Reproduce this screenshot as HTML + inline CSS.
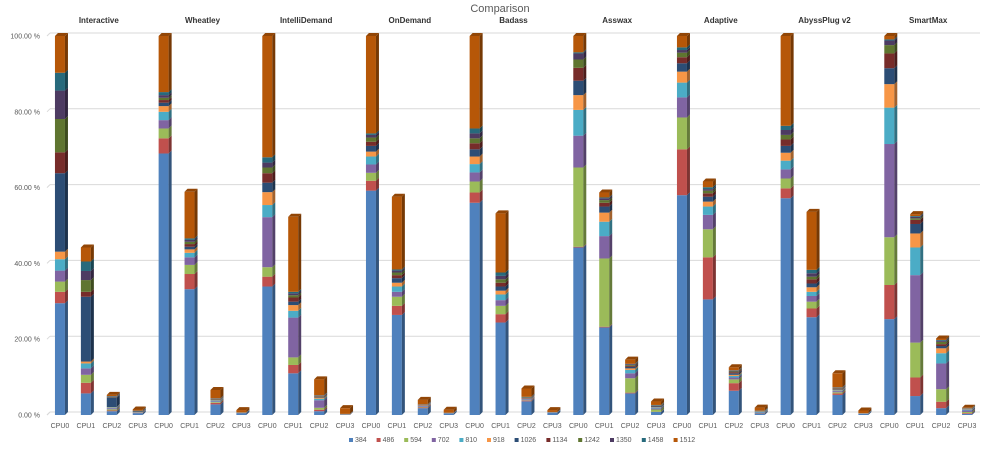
<!DOCTYPE html>
<html><head><meta charset="utf-8"><style>
body{margin:0;background:#fff;font-family:"Liberation Sans",sans-serif;}
svg{display:block}
</style></head><body>
<svg id="chart" width="1000" height="454"></svg>
<script>
const governors=["Interactive","Wheatley","IntelliDemand","OnDemand","Badass","Asswax","Adaptive","AbyssPlug v2","SmartMax"];
const cpus=["CPU0","CPU1","CPU2","CPU3"];
const freqs=["384","486","594","702","810","918","1026","1134","1242","1350","1458","1512"];
const colors=["#4F81BD","#C0504D","#9BBB59","#8064A2","#4BACC6","#F79646","#2C4D75","#772C2A","#5F7530","#4D3B62","#276A7C","#B65708"];
const yTicks=[0,20,40,60,80,100];
// per governor, per cpu: 12 frequency shares (%)
const interactive=[[29.5,3,2.7,2.9,3,2,20.7,5.5,8.8,7.5,4.7,9.7],[5.7,2.8,2.1,1.7,1.3,0.5,17.1,1.3,3.1,2.4,2.5,3.7],[1.0,0.2,0.3,0.3,0.2,0.1,2.5,0.1,0.1,0.1,0.1,0.3],[0.5,0.05,0.05,0.05,0.05,0.05,0.2,0.05,0.05,0.05,0.05,0.3]];
const wheatley=[[69,4,2.6,2.2,2.2,1.5,0.9,0.7,0.6,0.7,0.8,14.8],[33.2,4,2.4,2,1.2,0.9,0.7,0.7,0.6,0.5,0.4,12.3],[2.8,0.4,0.2,0.2,0.2,0.1,0.1,0.1,0.1,0.1,0.1,2.2],[0.5,0.02,0.02,0.02,0.02,0.02,0.02,0.02,0.02,0.02,0.02,0.6]];
const intellidemand=[[33.9,2.6,2.5,13.2,3.2,3.4,2.5,2.5,1.5,1.3,1.4,32],[11,2.2,2,10.5,1.8,1.5,0.9,1.1,0.6,0.5,0.4,19.8],[1.0,0.4,0.5,2,0.4,0.3,0.2,0.1,0.1,0.1,0.1,4.2],[0.1,0.02,0.02,0.02,0.02,0.02,0.02,0.02,0.02,0.02,0.02,1.5]];
const ondemand=[[59.2,2.6,2.1,2.2,2.1,1.3,1.5,1.1,1.1,0.7,0.4,25.7],[26.4,2.4,2.4,1.3,1.4,1,1.2,0.8,0.7,0.5,0.3,19.2],[1.8,0.2,0.1,0.2,0.1,0.1,0.1,0.05,0.05,0.05,0.05,1.2],[0.4,0.02,0.02,0.02,0.02,0.02,0.02,0.02,0.02,0.02,0.02,0.8]];
const badass=[[56,2.7,2.9,2.4,2.2,2,1.9,1.6,1.3,1.3,1.3,24.4],[24.4,2.2,2.2,1.5,1.5,1,1.1,1,0.9,0.9,0.9,15.6],[3.6,0.2,0.1,0.2,0.1,0.1,0.1,0.1,0.1,0.1,0.1,2.2],[0.6,0.02,0.02,0.02,0.02,0.02,0.02,0.02,0.02,0.02,0.02,0.5]];
const asswax=[[44.2,0.2,20.9,8.4,6.8,3.9,3.8,3.4,2.2,1.6,0.3,4.3],[23.1,0.2,18,5.9,3.8,2.4,1.6,1,0.7,0.5,0.2,1.3],[5.7,0.2,3.8,1.3,0.9,0.4,0.4,0.3,0.2,0.2,0.1,1.1],[0.8,0.05,0.6,0.3,0.2,0.1,0.2,0.1,0.1,0.1,0.1,0.9]];
const adaptive=[[58,12.1,8.4,5.3,3.9,2.9,2.2,1.6,1.2,0.7,0.7,3],[30.5,11.1,7.4,3.8,2.2,1.3,1.3,0.9,0.7,0.4,0.5,1.5],[6.4,2,1,0.5,0.4,0.3,0.4,0.3,0.2,0.2,0.1,0.8],[0.4,0.1,0.05,0.1,0.2,0.05,0.05,0.05,0.05,0.05,0.05,0.8]];
const abyssplug=[[57.2,2.6,2.6,2.4,2.3,2.1,1.8,1.7,1.2,1.3,1.1,23.7],[25.8,2.3,1.8,1.5,1.1,1.2,1,1.1,0.7,0.9,0.9,15.3],[5.3,0.4,0.3,0.3,0.2,0.2,0.2,0.1,0.1,0.1,0.1,3.7],[0.3,0.02,0.02,0.02,0.02,0.02,0.02,0.02,0.02,0.02,0.02,0.7]];
const smartmax=[[25.3,9,12.6,24.6,9.6,6.2,4.2,3.9,2.2,1.2,0.3,0.9],[5,4.9,9.2,17.8,7.3,3.7,2.5,1.1,0.4,0.4,0.2,0.5],[1.8,1.7,3.3,6.8,2.7,1.3,0.6,0.5,0.6,0.3,0.2,0.4],[0.3,0.2,0.3,0.4,0.2,0.1,0.1,0.05,0.05,0.05,0.05,0.1]];
const govData=[interactive,wheatley,intellidemand,ondemand,badass,asswax,adaptive,abyssplug,smartmax];

const NS="http://www.w3.org/2000/svg";
const svg=document.getElementById('chart');
function mk(t,a,p){const e=document.createElementNS(NS,t);for(const k in a)e.setAttribute(k,a[k]);(p||svg).appendChild(e);return e;}
const x0=47,plotW=933,y0=415,y100=36,D=3;
const nCat=governors.length*cpus.length,catW=plotW/nCat;
function yS(v){return y0-(y0-y100)*v/100;}
function xC(i){return x0+catW*(i+0.5);}
function shade(hex,f){const n=parseInt(hex.slice(1),16);let r=n>>16,g=(n>>8)&255,b=n&255;return `rgb(${Math.round(r*f)},${Math.round(g*f)},${Math.round(b*f)})`;}

let t=mk('text',{x:500,y:12,'text-anchor':'middle','font-size':11,fill:'#595959'});t.textContent='Comparison';


// side wall
let w=mk('line',{x1:x0,y1:yS(0),x2:x0+D,y2:yS(0)-D,stroke:'#d9d9d9'});


yTicks.forEach(v=>{
  const g=mk('line',{x1:x0+D,x2:x0+plotW,y1:yS(v)-D,y2:yS(v)-D,stroke:'#d9d9d9','stroke-width':1});
  
  
  const g2=mk('line',{x1:x0,x2:x0+D,y1:yS(v),y2:yS(v)-D,stroke:'#d9d9d9'});
  
  
  const l=mk('text',{x:40,y:yS(v)+2.5,'text-anchor':'end','font-size':7,fill:'#595959'});
  l.textContent=v.toFixed(2)+' %';
  
  
});
governors.forEach((gname,gi)=>{
  const gt=mk('text',{x:x0+catW*4*(gi+0.5),y:23,'text-anchor':'middle','font-size':8,'font-weight':'bold',fill:'#333'});
  gt.textContent=gname;
  
  
  cpus.forEach((c,ci)=>{
    const i=gi*4+ci,cx=xC(i),bw=10,bx=cx-bw/2;
    const bar=mk('g',{});
    
    
    let cum=0;const vals=govData[gi][ci];
    vals.forEach((v,si)=>{
      const yb=yS(cum),yt=yS(cum+v);cum+=v;
      const col=colors[si];
      const f=mk('rect',{x:bx,y:yt,width:bw,height:Math.max(yb-yt,0.01),fill:col},bar);
      
      
      const s=mk('polygon',{points:`${bx+bw},${yb} ${bx+bw+D},${yb-D} ${bx+bw+D},${yt-D} ${bx+bw},${yt}`,fill:shade(col,0.65)},bar);
      
      
    });
    const last=colors[colors.length-1],yt=yS(cum);
    const top=mk('polygon',{points:`${bx},${yt} ${bx+D},${yt-D} ${bx+bw+D},${yt-D} ${bx+bw},${yt}`,fill:shade(last,0.8)},bar);
    
    
    const cl=mk('text',{x:cx,y:428,'text-anchor':'middle','font-size':7,fill:'#595959'});
    cl.textContent=c;
    
    
  });
});
// legend
const lg=mk('g',{});


let lx=349;
freqs.forEach((f,i)=>{
  const e=mk('g',{},lg);
  
  
  mk('rect',{x:lx,y:438,width:4,height:4,fill:colors[i]},e);
  const tx=mk('text',{x:lx+6,y:442,'font-size':7,fill:'#595959'},e);tx.textContent=f;
  lx+=6+f.length*4.2+9;
});
</script>
</body></html>
